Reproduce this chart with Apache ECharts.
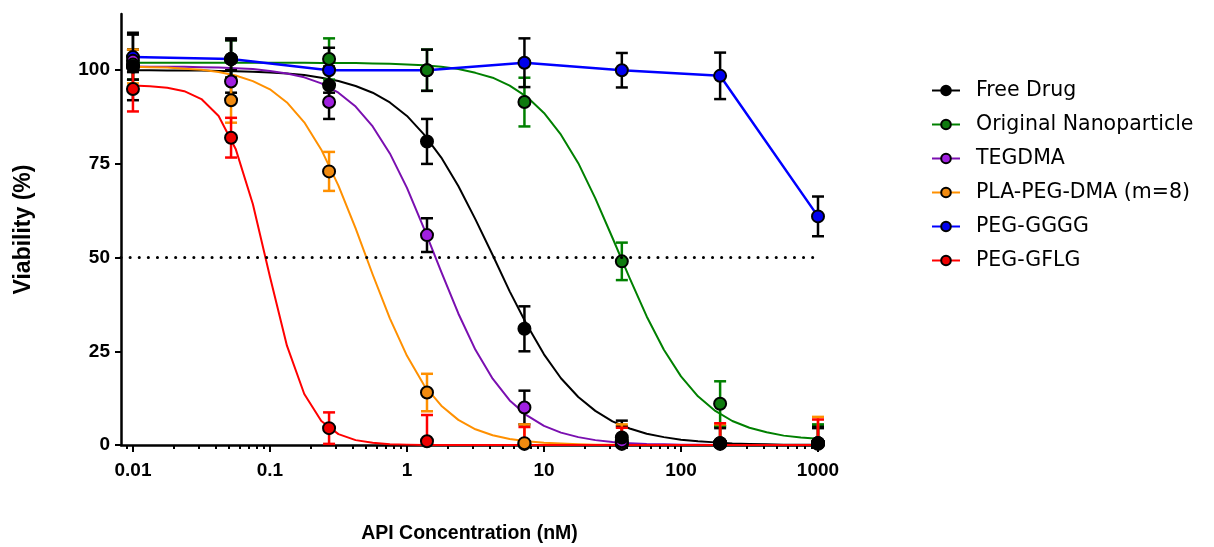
<!DOCTYPE html>
<html>
<head>
    <meta charset="utf-8">
    <title>Viability vs API concentration</title>
    <script src="https://cdn.jsdelivr.net/npm/echarts@6.0.0/dist/echarts.min.js"></script>
    <style>
        html, body { margin: 0; padding: 0; background: #fff; }
        #main { width: 1214px; height: 547px; }
    </style>
</head>
<body>
<div id="main"></div>
<script>
    // concentrations of the measured points (nM)
    var conc = [0.01, 0.052, 0.27, 1.4, 7.2, 37, 193, 1000];

    // mean viability (%) and SD for each formulation
    var freeDrugMean = [101, 103, 96, 81, 31, 2, 0.5, 0.5];
    var freeDrugSD = [9, 5.5, 5, 6, 6, 4.5, 4.5, 4.5];
    var originalMean = [101.5, 103, 103, 100, 91.5, 49, 11, 0.5];
    var originalSD = [4, 5, 5.5, 5.5, 6.5, 5, 6, 5];
    var tegdmaMean = [102.5, 97, 91.5, 56, 10, 1, 0.5, 0.5];
    var tegdmaSD = [3, 3, 4.5, 4.5, 4.5, 4, 4, 4];
    var plaMean = [101, 92, 73, 14, 0.5, 0.5, 0.5, 0.5];
    var plaSD = [4.5, 6, 5.2, 5, 5, 5, 5, 7];
    var ggggMean = [103.5, 103, 100, 100, 102, 100, 98.5, 61];
    var ggggSD = [6, 5, 6, 5.5, 6.5, 4.6, 6.2, 5.3];
    var gflgMean = [95, 82, 4.5, 1, 0.3, 0.3, 0.3, 0.3];
    var gflgSD = [6, 5.3, 4.2, 7, 4.5, 4.3, 5.5, 6.5];

    // fitted curves at 1/8 decade steps
    var curveX = [0.01, 0.0133, 0.0178, 0.0237, 0.0316, 0.0422, 0.0562, 0.075,
        0.1, 0.133, 0.178, 0.237, 0.316, 0.422, 0.562, 0.75,
        1, 1.33, 1.78, 2.37, 3.16, 4.22, 5.62, 7.5,
        10, 13.3, 17.8, 23.7, 31.6, 42.2, 56.2, 75,
        100, 133, 178, 237, 316, 422, 562, 750, 1000];
    var freeDrugFit = [100.0, 100.0, 99.9, 99.9, 99.9, 99.8, 99.7, 99.6,
        99.4, 99.1, 98.7, 98.0, 97.1, 95.8, 94.0, 91.4,
        87.8, 82.9, 76.7, 69.1, 60.2, 50.7, 41.0, 32.1,
        24.2, 17.8, 12.8, 9.1, 6.3, 4.4, 3.0, 2.1,
        1.4, 1.0, 0.7, 0.4, 0.3, 0.2, 0.1, 0.1, 0.1];
    var originalFit = [102.0, 102.0, 102.0, 102.0, 102.0, 102.0, 102.0, 102.0,
        102.0, 102.0, 102.0, 101.9, 101.9, 101.9, 101.8, 101.7,
        101.5, 101.3, 100.9, 100.3, 99.3, 98.0, 95.9, 92.9,
        88.6, 82.8, 75.2, 65.8, 55.3, 44.5, 34.3, 25.4,
        18.3, 13.0, 9.1, 6.4, 4.6, 3.4, 2.5, 2.0, 1.7];
    var tegdmaFit = [101.0, 100.9, 100.9, 100.9, 100.8, 100.7, 100.5, 100.3,
        99.8, 99.1, 98.1, 96.5, 94.0, 90.3, 85.0, 77.8,
        68.6, 57.8, 46.2, 35.1, 25.4, 17.7, 11.9, 7.9,
        5.1, 3.3, 2.1, 1.3, 0.8, 0.5, 0.3, 0.2,
        0.1, 0.1, 0, 0, 0, 0, 0, 0, 0];
    var plaFit = [100.9, 100.8, 100.7, 100.4, 100.1, 99.5, 98.6, 97.1,
        94.9, 91.4, 86.1, 78.8, 69.2, 57.8, 45.5, 33.8,
        23.8, 16.0, 10.5, 6.7, 4.2, 2.6, 1.6, 1.0,
        0.6, 0.4, 0.2, 0.1, 0.1, 0, 0, 0,
        0, 0, 0, 0, 0, 0, 0, 0, 0];
    var gflgFit = [95.9, 95.7, 95.3, 94.4, 92.3, 87.8, 79.0, 64.3,
        44.9, 26.5, 13.6, 6.4, 2.9, 1.3, 0.6, 0.2,
        0.1, 0, 0, 0, 0, 0, 0, 0,
        0, 0, 0, 0, 0, 0, 0, 0,
        0, 0, 0, 0, 0, 0, 0, 0, 0];

    // axis ticks
    var xMajorTicks = [0.01, 0.1, 1, 10, 100, 1000];
    var xMinorTicks = [0.009,
        0.02, 0.03, 0.04, 0.05, 0.06, 0.07, 0.08, 0.09,
        0.2, 0.3, 0.4, 0.5, 0.6, 0.7, 0.8, 0.9,
        2, 3, 4, 5, 6, 7, 8, 9,
        20, 30, 40, 50, 60, 70, 80, 90,
        200, 300, 400, 500, 600, 700, 800, 900];
    var yTicks = [0, 25, 50, 75, 100];

    var groups = [
        {name: 'Free Drug', mean: freeDrugMean, sd: freeDrugSD, fit: freeDrugFit,
            line: '#000000', fill: '#000000', bar: '#000000'},
        {name: 'Original Nanoparticle', mean: originalMean, sd: originalSD, fit: originalFit,
            line: '#008000', fill: '#0f7a0f', bar: '#008000'},
        {name: 'TEGDMA', mean: tegdmaMean, sd: tegdmaSD, fit: tegdmaFit,
            line: '#7a0fb0', fill: '#a020e0', bar: '#000000'},
        {name: 'PLA-PEG-DMA (m=8)', mean: plaMean, sd: plaSD, fit: plaFit,
            line: '#ff9000', fill: '#f08a10', bar: '#ff9000'},
        {name: 'PEG-GGGG', mean: ggggMean, sd: ggggSD, fit: null,
            line: '#0000ff', fill: '#0000ee', bar: '#000000'},
        {name: 'PEG-GFLG', mean: gflgMean, sd: gflgSD, fit: gflgFit,
            line: '#ff0000', fill: '#ee0000', bar: '#ff0000'}
    ];

    var pairs = function (xs, ys) {
        return xs.map(function (x, i) { return [x, ys[i]]; });
    };

    var series = [];
    // curves (PEG-GGGG is joined point to point)
    groups.forEach(function (g) {
        series.push({
            name: g.name,
            type: 'line',
            data: g.fit ? pairs(curveX, g.fit) : pairs(conc, g.mean),
            smooth: false,
            showSymbol: false,
            symbol: 'circle',
            symbolSize: 12,
            itemStyle: {color: g.fill, borderColor: '#000', borderWidth: 2},
            lineStyle: {color: g.line, width: g.fit ? 2 : 2.5, join: 'round'},
            z: 2,
            silent: true
        });
    });
    // error bars
    groups.forEach(function (g) {
        series.push({
            name: g.name + ' SD',
            type: 'custom',
            z: 3,
            silent: true,
            encode: {x: 0, y: [1, 2]},
            data: conc.map(function (x, i) {
                return [x, Math.max(0, g.mean[i] - g.sd[i]), g.mean[i] + g.sd[i]];
            }),
            renderItem: function (params, api) {
                var x = api.value(0), lo = api.value(1), hi = api.value(2);
                var top = api.coord([x, hi]);
                var bot = api.coord([x, lo]);
                var w = 6;
                var st = {stroke: g.bar, lineWidth: 2.5};
                var kids = [
                    {type: 'line', shape: {x1: top[0], y1: top[1], x2: bot[0], y2: bot[1]}, style: st},
                    {type: 'line', shape: {x1: top[0] - w, y1: top[1], x2: top[0] + w, y2: top[1]}, style: st}
                ];
                if (lo > 0) {
                    kids.push({type: 'line', shape: {x1: bot[0] - w, y1: bot[1], x2: bot[0] + w, y2: bot[1]}, style: st});
                }
                return {type: 'group', children: kids};
            }
        });
    });
    // points, black drawn last so it sits on top
    groups.slice().reverse().forEach(function (g) {
        series.push({
            name: g.name + ' pts',
            type: 'scatter',
            data: pairs(conc, g.mean),
            symbol: 'circle',
            symbolSize: 12,
            itemStyle: {color: g.fill, borderColor: '#000', borderWidth: 2, opacity: 1},
            z: 4,
            silent: true
        });
    });
    // 50 % reference line
    series[0].markLine = {
        silent: true,
        symbol: 'none',
        label: {show: false},
        lineStyle: {color: '#000', type: [0.1, 9], cap: 'round', width: 3},
        data: [{yAxis: 50}]
    };

    var fontFam = 'Liberation Sans, Arial, sans-serif';

    var myChart = echarts.init(document.getElementById('main'));
    var option = {
        animation: false,
        grid: {left: 121, top: 14, width: 697, height: 431, outerBoundsMode: 'none', containLabel: false},
        legend: {
            orient: 'vertical',
            left: 926,
            top: 75,
            itemWidth: 28,
            itemHeight: 12,
            itemGap: 13,
            data: groups.map(function (g) { return g.name; }),
            textStyle: {fontFamily: 'DejaVu Sans, sans-serif', fontSize: 20.5, color: '#000', padding: [0, 0, 0, 11]}
        },
        xAxis: [{
            type: 'log',
            logBase: 10,
            min: 0.00818,
            max: 1000,
            name: 'API Concentration (nM)',
            nameLocation: 'middle',
            nameGap: 79,
            nameTextStyle: {fontFamily: fontFam, fontWeight: 'bold', fontSize: 19.5, color: '#000'},
            axisLine: {lineStyle: {color: '#000', width: 2.5}},
            axisTick: {customValues: xMajorTicks, length: 7, lineStyle: {color: '#000', width: 2}},
            axisLabel: {
                customValues: xMajorTicks,
                margin: 16,
                fontFamily: fontFam, fontWeight: 'bold', fontSize: 19, color: '#000',
                formatter: function (v) { return String(v); }
            },
            splitLine: {show: false}
        }, {
            type: 'log',
            logBase: 10,
            min: 0.00818,
            max: 1000,
            position: 'bottom',
            offset: 0,
            axisLine: {show: false},
            axisTick: {customValues: xMinorTicks, length: 4, lineStyle: {color: '#000', width: 2}},
            axisLabel: {show: false},
            splitLine: {show: false}
        }],
        yAxis: {
            type: 'value',
            min: 0,
            max: 115,
            name: 'Viability (%)',
            nameLocation: 'middle',
            nameGap: 86,
            nameTextStyle: {fontFamily: fontFam, fontWeight: 'bold', fontSize: 23, color: '#000'},
            axisLine: {show: true, lineStyle: {color: '#000', width: 2.5}},
            axisTick: {show: true, customValues: yTicks, length: 6, lineStyle: {color: '#000', width: 2}},
            axisLabel: {
                customValues: yTicks,
                margin: 11,
                fontFamily: fontFam, fontWeight: 'bold', fontSize: 19, color: '#000'
            },
            splitLine: {show: false}
        },
        series: series
    };
    myChart.setOption(option);
</script>
</body>
</html>
